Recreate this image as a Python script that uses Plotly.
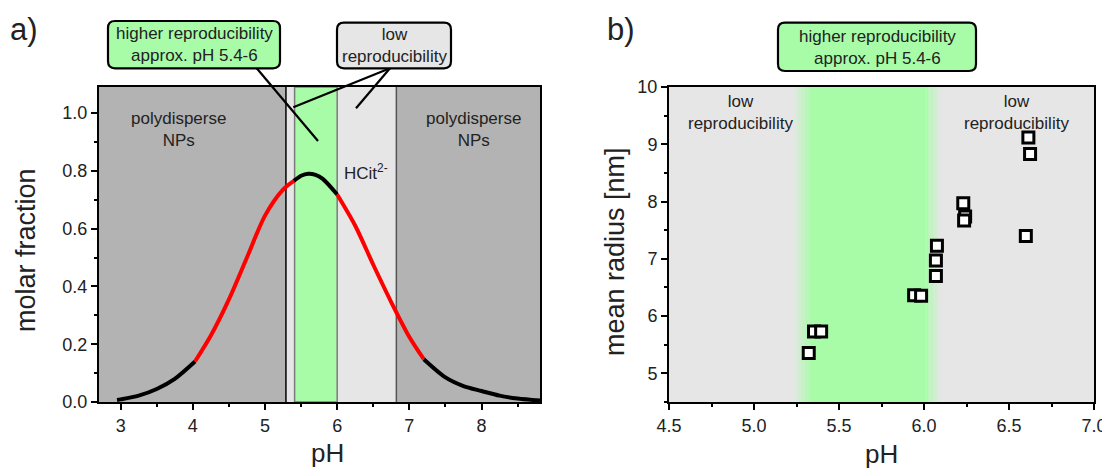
import plotly.graph_objects as go

# ---------------- data ----------------
# panel a) molar fraction of HCit2- vs pH (read from picture)
ph_curve = [2.95, 3.0, 3.25, 3.5, 3.75, 4.03, 4.25, 4.5, 4.75, 5.0, 5.25, 5.4, 5.5, 5.6, 5.7, 5.8, 6.0,
            6.25, 6.5, 6.75, 7.0, 7.2, 7.5, 7.75, 8.0, 8.25, 8.5, 8.81]
frac_curve = [0.007, 0.009, 0.022, 0.045, 0.08, 0.14, 0.23, 0.355, 0.50, 0.645, 0.735, 0.765, 0.783, 0.79, 0.786,
              0.772, 0.718, 0.61, 0.475, 0.345, 0.225, 0.148, 0.085, 0.055, 0.038, 0.022, 0.012, 0.005]
segment_bounds = [2.95, 4.03, 5.4, 6.0, 7.2, 8.81]
segment_colors = ["#000000", "#ff0000", "#000000", "#ff0000", "#000000"]

# panel a) regions (pH)
dark_left = (2.7, 5.29)
light_narrow = (5.29, 5.41)
green_band = (5.41, 6.0)
light_wide = (6.0, 6.82)
dark_right = (6.82, 8.81)

# panel b) mean radius vs pH
scatter_ph = [5.322, 5.353, 5.395, 5.942, 5.983, 6.076, 6.070, 6.070, 6.231, 6.242, 6.236, 6.614, 6.624, 6.599]
scatter_radius = [5.356, 5.73, 5.73, 6.366, 6.355, 7.23, 6.97, 6.70, 7.97, 7.74, 7.67, 9.12, 8.83, 7.40]

# panel b) green band with soft edges (pH)
green_fade_left = (5.23, 5.33)
green_fade_right = (6.01, 6.10)

# ---------------- layout geometry ----------------
# target pixel positions on the page; the page body adds an 8 px offset
OFF = 8
W, H = 1110, 468
ML = 99 - OFF
MT = 87 - OFF
MR = W - (1094 - OFF)
MB = H - (402 - OFF)
PW = W - ML - MR
PH = H - MT - MB


def px(x):
    return (x - OFF - ML) / PW


def py(y):
    return (H - MB - (y - OFF)) / PH


FONT = "Arial, Liberation Sans, sans-serif"
GREEN = "#a8fca8"
LIGHT = "#e6e6e6"
DARK = "#b3b3b3"

fig = go.Figure()

# curve segments
for i, col in enumerate(segment_colors):
    a, b = segment_bounds[i], segment_bounds[i + 1]
    xs = [x for x in ph_curve if a <= x <= b]
    ys = [y for x, y in zip(ph_curve, frac_curve) if a <= x <= b]
    fig.add_trace(go.Scatter(x=xs, y=ys, mode="lines", line=dict(color=col, width=4, shape="spline", smoothing=0.8),
                             xaxis="x", yaxis="y", showlegend=False, hoverinfo="skip"))

# scatter
fig.add_trace(go.Scatter(x=scatter_ph, y=scatter_radius, mode="markers",
                         marker=dict(symbol="square", size=11, color="white", line=dict(color="black", width=3)),
                         xaxis="x2", yaxis="y2", showlegend=False))

shapes = []
# panel a backgrounds
for (a, b), c in [(dark_left, DARK), (light_narrow, LIGHT), (light_wide, LIGHT), (dark_right, DARK)]:
    shapes.append(dict(type="rect", xref="x", yref="y domain", x0=a, x1=b, y0=0, y1=1,
                       fillcolor=c, line=dict(width=0), layer="below"))
shapes.append(dict(type="rect", xref="x", yref="y domain", x0=green_band[0], x1=green_band[1], y0=0, y1=1,
                   fillcolor=GREEN, line=dict(width=1.5, color="#7a7a7a"), layer="below"))
shapes.append(dict(type="line", xref="x", yref="y domain", x0=light_narrow[0], x1=light_narrow[0], y0=0, y1=1,
                   line=dict(width=1.5, color="#000000"), layer="below"))
shapes.append(dict(type="line", xref="x", yref="y domain", x0=dark_right[0], x1=dark_right[0], y0=0, y1=1,
                   line=dict(width=1.5, color="#555555"), layer="below"))

# panel b background + green gradient
shapes.append(dict(type="rect", xref="x2", yref="y2 domain", x0=4.5, x1=7.0, y0=0, y1=1,
                   fillcolor=LIGHT, line=dict(width=0), layer="below"))
shapes.append(dict(type="rect", xref="x2", yref="y2 domain", x0=green_fade_left[1], x1=green_fade_right[0], y0=0, y1=1,
                   fillcolor=GREEN, line=dict(width=0), layer="below"))


def mix(t):
    g = (168, 252, 168)
    l = (230, 230, 230)
    return "rgb(%d,%d,%d)" % tuple(round(l[k] + (g[k] - l[k]) * t) for k in range(3))


N = 12
for k in range(N):
    t = (k + 0.5) / N
    a = green_fade_left[0] + (green_fade_left[1] - green_fade_left[0]) * k / N
    b = green_fade_left[0] + (green_fade_left[1] - green_fade_left[0]) * (k + 1) / N
    shapes.append(dict(type="rect", xref="x2", yref="y2 domain", x0=a, x1=b, y0=0, y1=1,
                       fillcolor=mix(t), line=dict(width=0), layer="below"))
    a = green_fade_right[0] + (green_fade_right[1] - green_fade_right[0]) * k / N
    b = green_fade_right[0] + (green_fade_right[1] - green_fade_right[0]) * (k + 1) / N
    shapes.append(dict(type="rect", xref="x2", yref="y2 domain", x0=a, x1=b, y0=0, y1=1,
                       fillcolor=mix(1 - t), line=dict(width=0), layer="below"))


def rounded_box(x0, y0, x1, y1, fill, r=7):
    # page pixel coords (y down) -> paper
    X0, X1 = px(x0), px(x1)
    Y0, Y1 = py(y1), py(y0)  # bottom, top
    rx, ry = r / PW, r / PH
    path = (f"M {X0+rx},{Y0} L {X1-rx},{Y0} Q {X1},{Y0} {X1},{Y0+ry} "
            f"L {X1},{Y1-ry} Q {X1},{Y1} {X1-rx},{Y1} L {X0+rx},{Y1} Q {X0},{Y1} {X0},{Y1-ry} "
            f"L {X0},{Y0+ry} Q {X0},{Y0} {X0+rx},{Y0} Z")
    return dict(type="path", xref="paper", yref="paper", path=path, fillcolor=fill,
                line=dict(color="black", width=2.2), layer="above")


def pline(x0, y0, x1, y1):
    return dict(type="line", xref="paper", yref="paper", x0=px(x0), y0=py(y0), x1=px(x1), y1=py(y1),
                line=dict(color="black", width=2.2), layer="above")


shapes.append(pline(256.7, 68.3, 318, 141))
shapes.append(pline(390, 68.3, 293.3, 107.3))
shapes.append(pline(390, 68.3, 356, 108.3))
shapes.append(rounded_box(108, 21, 280, 68.3, GREEN))
shapes.append(rounded_box(337, 22.7, 451, 68.3, LIGHT))
shapes.append(rounded_box(778, 22.7, 976, 71, GREEN))

ann = []


def ptext(text, x, y, size=17, xanchor="center", **kw):
    ann.append(dict(text=text, xref="paper", yref="paper", x=px(x), y=py(y), showarrow=False,
                    xanchor=xanchor, yanchor="middle",
                    font=dict(family=FONT, size=size, color="#222222"), **kw))


ptext("higher reproducibility<br>approx. pH 5.4-6", 194, 44.5)
ptext("low<br>reproducibility", 394, 45.5)
ptext("higher reproducibility<br>approx. pH 5.4-6", 877, 47)
ptext("low<br>reproducibility", 740, 112)
ptext("low<br>reproducibility", 1016, 112)
ptext("polydisperse<br>NPs", 178, 130)
ptext("polydisperse<br>NPs", 473, 130)
ptext("HCit<sup>2-</sup>", 342, 172, xanchor="left")
ptext("a)", 24, 30, size=31)
ptext("b)", 621, 30, size=31)
ptext("pH", 327, 453, size=26)
ptext("pH", 881, 454, size=26)
ptext("molar fraction", 26, 250, size=27, textangle=-90)
ptext("mean radius [nm]", 615, 252, size=27, textangle=-90)

axis_common = dict(showline=True, linecolor="black", linewidth=2, mirror=True, ticks="outside",
                   ticklen=6, tickwidth=2, tickcolor="black", showgrid=False, zeroline=False,
                   tickfont=dict(family=FONT, size=18, color="#222222"),
                   minor=dict(ticks="outside", ticklen=3, tickwidth=1.5, tickcolor="black", showgrid=False))

fig.update_layout(
    width=W, height=H, margin=dict(l=ML, r=MR, t=MT, b=MB),
    plot_bgcolor=LIGHT, paper_bgcolor="white",
    xaxis=dict(domain=[0, px(540)], range=[2.7, 8.81], dtick=1, tick0=0, anchor="y", **axis_common),
    yaxis=dict(domain=[0, 1], range=[0, 1.09], dtick=0.2, tickformat=".1f", anchor="x", **axis_common),
    xaxis2=dict(domain=[px(669), 1], range=[4.5, 7.0], dtick=0.5, tick0=0, tickformat=".1f", anchor="y2",
                **axis_common),
    yaxis2=dict(domain=[0, 1], range=[4.5, 10], dtick=1, tick0=0, anchor="x2", **axis_common),
    shapes=shapes, annotations=ann, showlegend=False,
)
fig.layout.xaxis.minor.dtick = 0.5
fig.layout.yaxis.minor.dtick = 0.1
fig.layout.xaxis2.minor.dtick = 0.25
fig.layout.yaxis2.minor.dtick = 0.5

fig.write_html("out.html")
